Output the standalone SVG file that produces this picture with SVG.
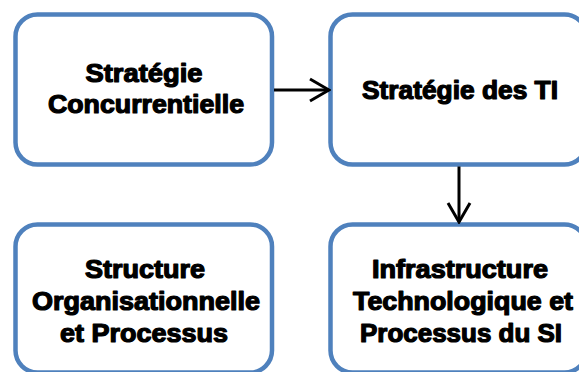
<svg xmlns="http://www.w3.org/2000/svg" width="579" height="372" viewBox="0 0 579 372">
<style>
.box{fill:#ffffff;stroke:#4f81bd;stroke-width:4.5}
.lbl{font-family:"Liberation Sans",Arial,sans-serif;font-weight:bold;font-size:25px;fill:#000;stroke:#000;stroke-width:1.2;stroke-linejoin:round;text-anchor:middle}
.conn{stroke:#000;stroke-width:3;fill:none}
</style>
<defs>
<marker id="arr" markerUnits="userSpaceOnUse" viewBox="-22 -14 24 28" markerWidth="24" markerHeight="28" refX="0" refY="0" orient="auto">
<path d="M-19,-11 L0,0 L-19,11" fill="none" stroke="#000" stroke-width="3"/>
</marker>
</defs>
<rect width="579" height="372" fill="#ffffff"/>
<g id="strategie-concurrentielle">
<rect class="box" x="15.5" y="14.5" width="256.5" height="150" rx="22"/>
<text class="lbl" x="144" y="82" textLength="117" lengthAdjust="spacingAndGlyphs">Stratégie</text>
<text class="lbl" x="146" y="113" textLength="196" lengthAdjust="spacingAndGlyphs">Concurrentielle</text>
</g>
<g id="strategie-ti">
<rect class="box" x="330.5" y="14.5" width="256" height="150" rx="22"/>
<text class="lbl" x="460" y="99" textLength="196" lengthAdjust="spacingAndGlyphs">Stratégie des TI</text>
</g>
<g id="structure-organisationnelle">
<rect class="box" x="15.5" y="224.5" width="256.5" height="148" rx="22"/>
<text class="lbl" x="145" y="278" textLength="120" lengthAdjust="spacingAndGlyphs">Structure</text>
<text class="lbl" x="146" y="310" textLength="228" lengthAdjust="spacingAndGlyphs">Organisationnelle</text>
<text class="lbl" x="144" y="342" textLength="168" lengthAdjust="spacingAndGlyphs">et Processus</text>
</g>
<g id="infrastructure-technologique">
<rect class="box" x="330.5" y="224.5" width="256" height="148" rx="22"/>
<text class="lbl" x="460" y="278" textLength="176" lengthAdjust="spacingAndGlyphs">Infrastructure</text>
<text class="lbl" x="463" y="310" textLength="220" lengthAdjust="spacingAndGlyphs">Technologique et</text>
<text class="lbl" x="461" y="342" textLength="202" lengthAdjust="spacingAndGlyphs">Processus du SI</text>
</g>
<g id="connectors">
<line class="conn" x1="274" y1="90" x2="329" y2="90" marker-end="url(#arr)"/>
<line class="conn" x1="459" y1="166.5" x2="459" y2="222" marker-end="url(#arr)"/>
</g>
</svg>
